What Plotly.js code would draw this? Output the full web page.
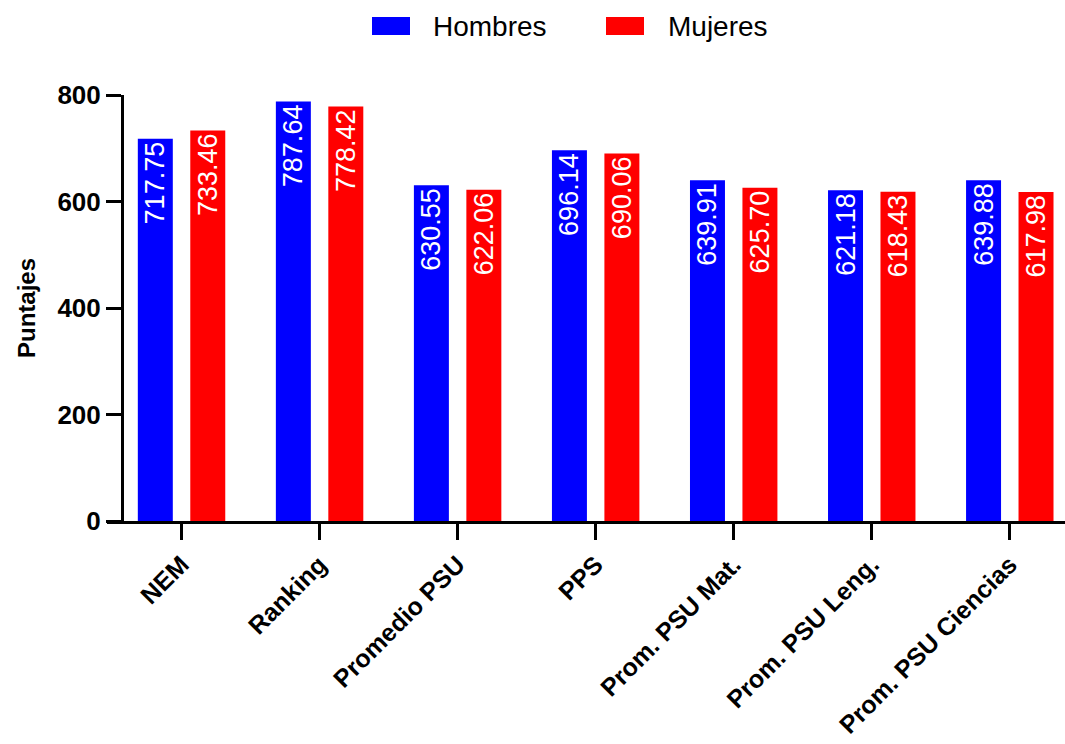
<!DOCTYPE html>
<html>
<head>
<meta charset="utf-8">
<script src="https://cdn.plot.ly/plotly-3.0.1.min.js"></script>
<style>html,body{margin:0;padding:0;background:#fff;}#chart{width:1065px;height:744px;}</style>
</head>
<body>
<div id="chart"></div>
<script>
const categories = ["NEM", "Ranking", "Promedio PSU", "PPS", "Prom. PSU Mat.", "Prom. PSU Leng.", "Prom. PSU Ciencias"];
const hombres = [717.75, 787.64, 630.55, 696.14, 639.91, 621.18, 639.88];
const mujeres = [733.46, 778.42, 622.06, 690.06, 625.70, 618.43, 617.98];
const seriesNames = ["Hombres", "Mujeres"];
const yTicks = [0, 200, 400, 600, 800];

const FONT = "Liberation Sans, Arial, sans-serif";
const barText = {family: FONT, size: 27, color: "#ffffff"};

function barTrace(name, values, color) {
  return {
    type: "bar", name: name, x: categories, y: values,
    marker: {color: color, line: {width: 0}},
    texttemplate: "%{y:.2f}", textposition: "inside", insidetextanchor: "end",
    textangle: -90, insidetextfont: barText, constraintext: "none",
    hoverinfo: "x+y", showlegend: false
  };
}

const data = [barTrace(seriesNames[0], hombres, "#0000ff"), barTrace(seriesNames[1], mujeres, "#ff0000")];

const L = 107, PW = 958, YB = 521, PH = 426;
const px = v => (v - L) / PW;
const py = v => (YB - v) / PH;

const layout = {
  width: 1065, height: 744,
  margin: {l: L, r: 0, t: 95, b: 744 - YB},
  paper_bgcolor: "#ffffff", plot_bgcolor: "#ffffff",
  font: {family: FONT, color: "#000000"},
  barmode: "group", bargap: 0.24, bargroupgap: 0.333,
  uniformtext: {mode: "show", minsize: 27},
  xaxis: {
    range: [-0.54, 6.40], showline: true, linewidth: 3, linecolor: "#000",
    ticks: "outside", ticklen: 16, tickwidth: 3, tickcolor: "#000",
    tickangle: -45, tickfont: {family: FONT, size: 25, weight: "bold", color: "#000"},
    showgrid: false, zeroline: false, automargin: false, fixedrange: true
  },
  yaxis: {
    anchor: "free", position: px(122), range: [0, 800],
    tickvals: yTicks, ticktext: yTicks.map(String),
    showline: true, linewidth: 3, linecolor: "#000",
    ticks: "outside", ticklen: 15, tickwidth: 3, tickcolor: "#000",
    tickfont: {family: FONT, size: 26, weight: "bold", color: "#000"},
    showgrid: false, zeroline: false, automargin: false,
    title: {text: "Puntajes", font: {family: FONT, size: 24, weight: "bold", color: "#000"}, standoff: 14}
  },
  shapes: [
    {type: "rect", xref: "paper", yref: "paper", x0: px(372), x1: px(410), y0: py(35), y1: py(17), fillcolor: "#0000ff", line: {width: 0}},
    {type: "rect", xref: "paper", yref: "paper", x0: px(606), x1: px(644), y0: py(35), y1: py(17), fillcolor: "#ff0000", line: {width: 0}}
  ],
  annotations: [
    {xref: "paper", yref: "paper", x: px(431), y: py(27), xanchor: "left", yanchor: "middle", showarrow: false, text: seriesNames[0], font: {family: FONT, size: 28, color: "#000"}},
    {xref: "paper", yref: "paper", x: px(666), y: py(27), xanchor: "left", yanchor: "middle", showarrow: false, text: seriesNames[1], font: {family: FONT, size: 28, color: "#000"}}
  ]
};

Plotly.newPlot("chart", data, layout, {displayModeBar: false, staticPlot: true});
</script>
</body>
</html>
